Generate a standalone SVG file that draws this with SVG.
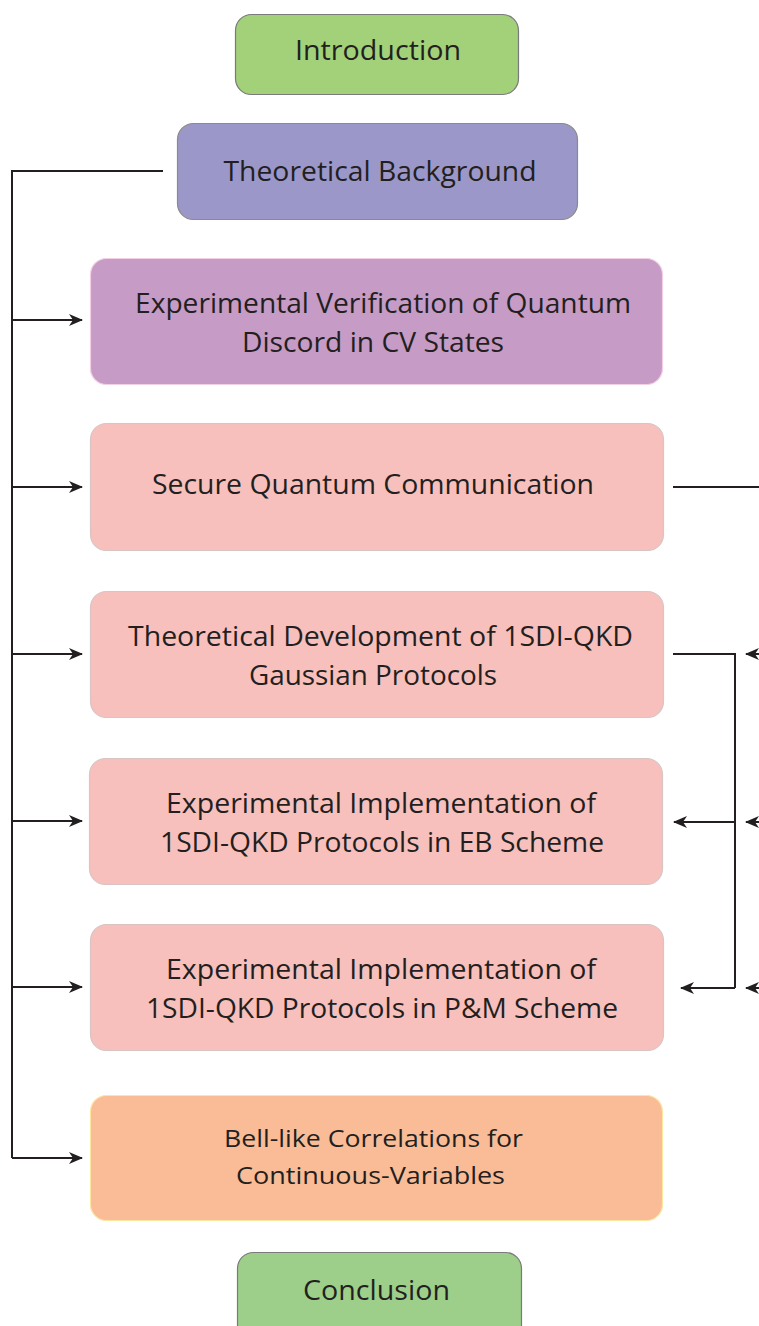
<svg xmlns="http://www.w3.org/2000/svg" width="759" height="1326" viewBox="0 0 759 1326">
  <style>
    .box { stroke-width: 1.2; }
    .lbl { font-family: "Open Sans", "Noto Sans", "Liberation Sans", sans-serif; font-size: 26.5px; fill: #231f20; text-anchor: middle; }
    .sm { font-size: 24px; }
    .wire { fill: none; stroke: #231f20; stroke-width: 2; }
  </style>
  <defs>
    <marker id="arrow" viewBox="0 0 14 12" refX="13" refY="6" markerWidth="14" markerHeight="12" markerUnits="userSpaceOnUse" orient="auto">
      <path d="M0,0 L14,6 L0,12 L4,6 Z" fill="#231f20"/>
    </marker>
  </defs>
  <rect width="759" height="1326" fill="#ffffff"/>

  <g id="introduction">
    <rect class="box" x="235.5" y="14.5" width="283" height="80" rx="16" fill="#a2d179" stroke="#7a7a7a"/>
    <text class="lbl" x="378" y="60" textLength="166" lengthAdjust="spacingAndGlyphs">Introduction</text>
  </g>

  <g id="theoretical-background">
    <rect class="box" x="177.5" y="123.5" width="400" height="96" rx="16" fill="#9b97c9" stroke="#8a8a8a"/>
    <text class="lbl" x="380" y="181" textLength="313" lengthAdjust="spacingAndGlyphs">Theoretical Background</text>
  </g>

  <g id="discord-verification">
    <rect class="box" x="90.5" y="258.5" width="572" height="126" rx="16" fill="#c69bc6" stroke="#f3cfe3"/>
    <text class="lbl" x="383" y="313" textLength="496" lengthAdjust="spacingAndGlyphs">Experimental Verification of Quantum</text>
    <text class="lbl" x="373" y="352" textLength="262" lengthAdjust="spacingAndGlyphs">Discord in CV States</text>
  </g>

  <g id="secure-communication">
    <rect class="box" x="90.5" y="423.5" width="573" height="127" rx="16" fill="#f8c0bc" stroke="#d9c4c4"/>
    <text class="lbl" x="373" y="494" textLength="442" lengthAdjust="spacingAndGlyphs">Secure Quantum Communication</text>
  </g>

  <g id="theoretical-development">
    <rect class="box" x="90.5" y="591.5" width="573" height="126" rx="16" fill="#f8c0bc" stroke="#d9c4c4"/>
    <text class="lbl" x="380.5" y="646" textLength="505" lengthAdjust="spacingAndGlyphs">Theoretical Development of 1SDI-QKD</text>
    <text class="lbl" x="373" y="685" textLength="248" lengthAdjust="spacingAndGlyphs">Gaussian Protocols</text>
  </g>

  <g id="implementation-eb">
    <rect class="box" x="89.5" y="758.5" width="573" height="126" rx="16" fill="#f8c0bc" stroke="#d9c4c4"/>
    <text class="lbl" x="381" y="813" textLength="430" lengthAdjust="spacingAndGlyphs">Experimental Implementation of</text>
    <text class="lbl" x="382" y="852" textLength="444" lengthAdjust="spacingAndGlyphs">1SDI-QKD Protocols in EB Scheme</text>
  </g>

  <g id="implementation-pm">
    <rect class="box" x="90.5" y="924.5" width="573" height="126" rx="16" fill="#f8c0bc" stroke="#d9c4c4"/>
    <text class="lbl" x="381" y="979" textLength="430" lengthAdjust="spacingAndGlyphs">Experimental Implementation of</text>
    <text class="lbl" x="382" y="1018" textLength="472" lengthAdjust="spacingAndGlyphs">1SDI-QKD Protocols in P&amp;M Scheme</text>
  </g>

  <g id="bell-correlations">
    <rect class="box" x="90.5" y="1095.5" width="572" height="125" rx="16" fill="#f9bc97" stroke="#fbe6a2"/>
    <text class="lbl sm" x="373.5" y="1147" textLength="299" lengthAdjust="spacingAndGlyphs">Bell-like Correlations for</text>
    <text class="lbl sm" x="370.5" y="1184" textLength="269" lengthAdjust="spacingAndGlyphs">Continuous-Variables</text>
  </g>

  <g id="conclusion">
    <rect class="box" x="237.5" y="1252.5" width="284" height="90" rx="16" fill="#9dcf8a" stroke="#7a7a7a"/>
    <text class="lbl" x="376.5" y="1300" textLength="147" lengthAdjust="spacingAndGlyphs">Conclusion</text>
  </g>

  <g id="connectors">
    <!-- left bus from Theoretical Background to the chapter boxes -->
    <path class="wire" d="M163,171 H12 V1158"/>
    <path class="wire" d="M12,320 H82" marker-end="url(#arrow)"/>
    <path class="wire" d="M12,487 H82" marker-end="url(#arrow)"/>
    <path class="wire" d="M12,654 H82" marker-end="url(#arrow)"/>
    <path class="wire" d="M12,821 H82" marker-end="url(#arrow)"/>
    <path class="wire" d="M12,987 H82" marker-end="url(#arrow)"/>
    <path class="wire" d="M12,1158 H82" marker-end="url(#arrow)"/>

    <!-- right side links -->
    <path class="wire" d="M673,487 H759"/>
    <path class="wire" d="M673,654 H735 V988"/>
    <path class="wire" d="M735,822 H674" marker-end="url(#arrow)"/>
    <path class="wire" d="M735,988 H681" marker-end="url(#arrow)"/>
    <path class="wire" d="M772,654 H746" marker-end="url(#arrow)"/>
    <path class="wire" d="M772,822 H746" marker-end="url(#arrow)"/>
    <path class="wire" d="M772,988 H746" marker-end="url(#arrow)"/>
  </g>
</svg>
